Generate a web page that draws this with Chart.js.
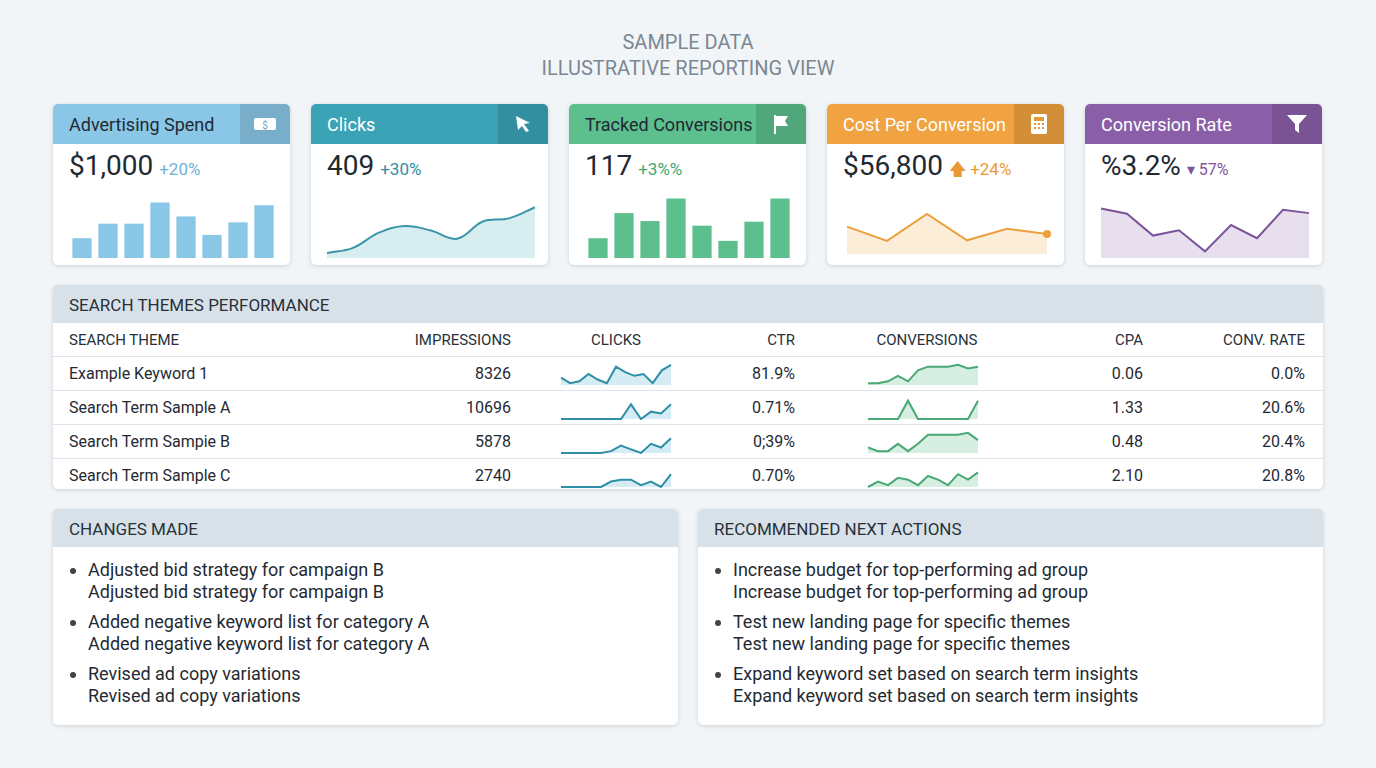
<!DOCTYPE html>
<html lang="en">
<head>
<meta charset="UTF-8">
<title>Search Themes Reporting View</title>
<script src="https://cdn.jsdelivr.net/npm/chart.js"></script>
<style>
  body { margin: 0; width: 1376px; height: 768px; overflow: hidden; background: #f1f5f8; font-family: Roboto, sans-serif; color: #1f2a33; position: relative; }
  .title { position: absolute; top: 29px; left: 0; width: 1376px; text-align: center; color: #7b8792; font-size: 20px; line-height: 26px; }
  .card { position: absolute; top: 104px; width: 237px; height: 161px; background: #fff; border-radius: 5px; box-shadow: 0 1px 4px rgba(0,0,0,0.15); overflow: hidden; }
  .card .hd { height: 40px; position: relative; font-size: 18px; line-height: 42px; padding-left: 16px; }
  .card .ic { position: absolute; right: 0; top: 0; width: 50px; height: 40px; background: rgba(0,0,0,0.12); display: flex; align-items: center; justify-content: center; }
  .card .val { position: absolute; top: 45px; left: 16px; font-size: 28px; }
  .card .val span { font-size: 17px; margin-left: 6px; }
  .card .cv { position: absolute; left: 14px; top: 86px; width: 212px; height: 70px; }
  .panel { position: absolute; background: #fff; border-radius: 5px; box-shadow: 0 1px 4px rgba(0,0,0,0.15); overflow: hidden; }
  .panel .ph { height: 38px; background: #d9e1e8; font-size: 17px; line-height: 40px; padding-left: 16px; color: #26313a; }
  table { border-collapse: collapse; width: 1270px; table-layout: fixed; font-size: 16px; }
  td, th { height: 33px; padding: 0; border-bottom: 1px solid #dde3e8; font-weight: normal; }
  th { font-size: 15px; color: #26313a; }
  .r { text-align: right; }
  .spk { width: 114px; height: 26px; position: relative; }
  ul { margin: 12px 0 0 0; padding-left: 35px; font-size: 18px; line-height: 21.5px; }
  li { margin-bottom: 9px; }
  li::marker { font-size: 18px; color: #444; }
</style>
</head>
<body>
<div class="title">SAMPLE DATA<br>ILLUSTRATIVE REPORTING VIEW</div>

<div class="card" style="left:53px">
  <div class="hd" style="background:#8ac6e6;color:#1f2a33">Advertising Spend<div class="ic"><svg width="24" height="16"><rect x="1" y="2" width="22" height="12" rx="2" fill="#fff"/><text x="12" y="12.5" font-size="10" text-anchor="middle" fill="#6aa8cc">$</text></svg></div></div>
  <div class="val">$1,000<span style="color:#6fb3d8">+20%</span></div>
  <div class="cv"><canvas id="spend"></canvas></div>
</div>
<div class="card" style="left:311px">
  <div class="hd" style="background:#3aa3b5;color:#fff">Clicks<div class="ic"><svg width="20" height="20"><polygon points="3,2 17,9 11,10 16,17 13,18 9,12 5,16" fill="#fff"/></svg></div></div>
  <div class="val">409<span style="color:#2f8fa0">+30%</span></div>
  <div class="cv"><canvas id="clicks"></canvas></div>
</div>
<div class="card" style="left:569px">
  <div class="hd" style="background:#5cbf8d;color:#1f2a33">Tracked Conversions<div class="ic"><svg width="20" height="22"><rect x="3" y="2" width="2" height="19" fill="#fff"/><polygon points="5,3 17,3 14,8 17,13 5,13" fill="#fff"/></svg></div></div>
  <div class="val">117<span style="color:#3fa873">+3%%</span></div>
  <div class="cv"><canvas id="conv"></canvas></div>
</div>
<div class="card" style="left:827px">
  <div class="hd" style="background:#f0a340;color:#fff">Cost Per Conversion<div class="ic"><svg width="18" height="22"><rect x="1" y="1" width="16" height="20" rx="2" fill="#fff"/><rect x="4" y="4" width="10" height="4" fill="#e59a3a"/><g fill="#e59a3a"><rect x="4" y="10" width="2" height="2"/><rect x="8" y="10" width="2" height="2"/><rect x="12" y="10" width="2" height="2"/><rect x="4" y="14" width="2" height="2"/><rect x="8" y="14" width="2" height="2"/><rect x="12" y="14" width="2" height="2"/></g></svg></div></div>
  <div class="val">$56,800<span style="color:#e99a35">&#129093; +24%</span></div>
  <div class="cv"><canvas id="cpc"></canvas></div>
</div>
<div class="card" style="left:1085px">
  <div class="hd" style="background:#8a5fa8;color:#fff">Conversion Rate<div class="ic"><svg width="22" height="22"><polygon points="1,2 21,2 13,11 13,20 9,17 9,11" fill="#fff"/></svg></div></div>
  <div class="val">%3.2%<span style="color:#7e559c;font-size:16px">&#9662; 57%</span></div>
  <div class="cv"><canvas id="rate"></canvas></div>
</div>

<div class="panel" style="left:53px;top:285px;width:1270px;height:204px">
  <div class="ph">SEARCH THEMES PERFORMANCE</div>
  <table id="tbl">
    <colgroup><col style="width:300px"><col style="width:158px"><col style="width:210px"><col style="width:74px"><col style="width:264px"><col style="width:84px"><col></colgroup>
    <tr><th style="text-align:left;padding-left:16px">SEARCH THEME</th><th class="r">IMPRESSIONS</th><th>CLICKS</th><th class="r">CTR</th><th>CONVERSIONS</th><th class="r">CPA</th><th class="r" style="padding-right:18px">CONV. RATE</th></tr>
  </table>
</div>

<div class="panel" style="left:53px;top:509px;width:625px;height:216px">
  <div class="ph">CHANGES MADE</div>
  <ul id="changes"></ul>
</div>
<div class="panel" style="left:698px;top:509px;width:625px;height:216px">
  <div class="ph">RECOMMENDED NEXT ACTIONS</div>
  <ul id="actions"></ul>
</div>

<script>
  // KPI card series
  const spendBars = [3, 5.2, 5.2, 8.4, 6.3, 3.5, 5.4, 8];
  const clicksLine = [1, 2, 5, 6.3, 5.4, 3.8, 7.2, 7.8, 10];
  const convBars = [3, 6.8, 5.6, 9, 4.9, 2.6, 5.5, 9];
  const cpcLine = [5.2, 2.5, 7.6, 2.6, 4.8, 3.8];
  const rateLine = [7.5, 6.7, 3.4, 4.2, 1, 5, 3, 7.3, 6.8];

  // table
  const themes = ["Example Keyword 1", "Search Term Sample A", "Search Term Sampie B", "Search Term Sample C"];
  const impressions = ["8326", "10696", "5878", "2740"];
  const ctr = ["81.9%", "0.71%", "0;39%", "0.70%"];
  const cpa = ["0.06", "1.33", "0.48", "2.10"];
  const convRate = ["0.0%", "20.6%", "20.4%", "20.8%"];
  const clickSpark = [
    [4, 1, 2, 6, 3, 1, 10, 7, 5, 6, 1, 8, 11],
    [0, 0, 0, 0, 0, 0, 0, 8, 0, 4, 3, 8],
    [0, 0, 0, 0, 0, 1, 4, 2, 0, 5, 3, 8],
    [0, 0, 0, 0, 0, 3, 4, 4, 1, 3, 0, 7]
  ];
  const convSpark = [
    [1, 1, 2, 5, 2, 8, 10, 10, 10, 11, 9, 10],
    [0, 0, 0, 0, 10, 0, 0, 0, 0, 0, 0, 10],
    [3, 1, 1, 5, 1, 5, 10, 10, 10, 10, 11, 7],
    [0, 3, 1, 5, 4, 1, 6, 4, 1, 7, 4, 8]
  ];

  const changes = [
    ["Adjusted bid strategy for campaign B", "Adjusted bid strategy for campaign B"],
    ["Added negative keyword list for category A", "Added negative keyword list for category A"],
    ["Revised ad copy variations", "Revised ad copy variations"]
  ];
  const actions = [
    ["Increase budget for top-performing ad group", "Increase budget for top-performing ad group"],
    ["Test new landing page for specific themes", "Test new landing page for specific themes"],
    ["Expand keyword set based on search term insights", "Expand keyword set based on search term insights"]
  ];

  const hidden = {
    responsive: true, maintainAspectRatio: false, animation: false,
    plugins: { legend: { display: false }, tooltip: { enabled: false } },
    scales: { x: { display: false }, y: { display: false, beginAtZero: true } },
    layout: { padding: 2 }
  };

  function labelsFor(arr) { return arr.map((_, i) => i + 1); }

  function bars(id, data, color) {
    new Chart(document.getElementById(id), {
      type: 'bar',
      data: { labels: labelsFor(data), datasets: [{ data, backgroundColor: color, categoryPercentage: 0.74, barPercentage: 1 }] },
      options: hidden
    });
  }

  function line(el, data, color, fill, tension, opts = {}) {
    new Chart(el, {
      type: 'line',
      data: { labels: labelsFor(data), datasets: [{ data, borderColor: color, backgroundColor: fill, fill: true, tension, borderWidth: opts.bw || 2, pointRadius: opts.pr || 0, pointBackgroundColor: color }] },
      options: Object.assign({}, hidden, { scales: { x: { display: false }, y: { display: false, beginAtZero: true, max: opts.max } } })
    });
  }

  bars('spend', spendBars, '#8ac6e6');
  line(document.getElementById('clicks'), clicksLine, '#3a96a8', 'rgba(58,163,181,0.2)', 0.4, { max: 13 });
  bars('conv', convBars, '#5cbf8d');
  line(document.getElementById('cpc'), cpcLine, '#eaa13e', 'rgba(240,163,64,0.2)', 0, { max: 11, pr: [0, 0, 0, 0, 0, 3] });
  line(document.getElementById('rate'), rateLine, '#7a549a', 'rgba(138,95,168,0.2)', 0, { max: 10 });

  const tbl = document.getElementById('tbl');
  themes.forEach((t, i) => {
    const tr = document.createElement('tr');
    tr.innerHTML =
      `<td style="padding-left:16px">${t}</td><td class="r">${impressions[i]}</td>` +
      `<td><div class="spk" style="margin-left:48px"><canvas id="ck${i}"></canvas></div></td>` +
      `<td class="r">${ctr[i]}</td>` +
      `<td><div class="spk" style="margin-left:71px"><canvas id="cv${i}"></canvas></div></td>` +
      `<td class="r">${cpa[i]}</td><td class="r" style="padding-right:18px">${convRate[i]}</td>`;
    if (i === themes.length - 1) tr.querySelectorAll('td').forEach(td => td.style.borderBottom = 'none');
    tbl.appendChild(tr);
  });
  themes.forEach((_, i) => {
    line(document.getElementById('ck' + i), clickSpark[i], '#2f8fa6', 'rgba(90,180,210,0.25)', 0, { max: 12 });
    line(document.getElementById('cv' + i), convSpark[i], '#4aa874', 'rgba(92,191,141,0.25)', 0, { max: 12 });
  });

  function fillList(id, items) {
    document.getElementById(id).innerHTML = items.map(p => `<li>${p[0]}<br>${p[1]}</li>`).join('');
  }
  fillList('changes', changes);
  fillList('actions', actions);
</script>
</body>
</html>
